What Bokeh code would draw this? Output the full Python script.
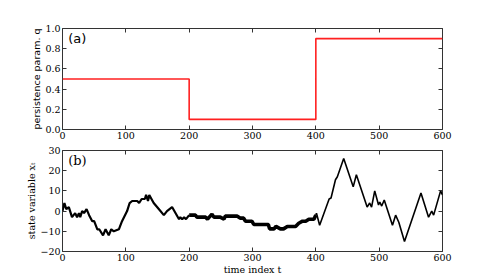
from bokeh.plotting import figure
from bokeh.layouts import column
from bokeh.models import LinearAxis, Label, FixedTicker, Range1d, NumeralTickFormatter, CustomJSTickFormatter
from bokeh.embed import file_html
from bokeh.resources import INLINE

# ---- data ----
q_t = [0, 200, 400, 600]
q_val = [0.5, 0.1, 0.9, 0.9]

# regime q=0.5
tA = [0, 3, 6, 10, 15, 20, 23, 26, 28, 31, 34, 38, 42, 47, 50, 55, 58, 64, 68, 73, 77, 81, 89, 94,
      102, 106, 110, 118, 121, 125, 130, 132, 135, 137, 144, 152, 160, 165, 173, 184, 186, 189, 192, 195, 200]
xA = [0, 4, 1, 2, -3, -1, -3, -1, -3, 0, -1, 1, -2, -5, -5, -9, -9, -12, -9, -12, -9, -10, -9, -5,
      0, 4, 5, 5, 4, 6, 6, 8, 5, 8, 4, 1, -2, 0, 2, -4, -3, -4, -3, -4, -2]
# regime q=0.1 (anti-persistent, dense band)
tB = [200, 210, 212, 226, 229, 236, 239, 249, 255, 257, 276, 281, 286, 289, 299, 302, 325, 327, 334,
      337, 344, 349, 355, 368, 373, 379, 384, 389, 397, 400]
xB = [-2, -2, -3, -3, -4, -1.5, -3, -3, -4, -2.5, -2.5, -3.5, -3.5, -5, -5, -6.6, -6.6, -8.8, -8.8,
      -7.6, -8.8, -8.8, -7.6, -7.6, -6, -5, -5, -4, -4, -2]
# regime q=0.9 (persistent)
tC = [400, 401, 406, 421, 424, 431, 434, 444, 459, 464, 481, 485, 488, 493, 499, 501, 504, 508, 521,
      526, 531, 540, 566, 578, 583, 586, 597, 600]
xC = [-2, -1, -7, 6, 6.5, 15.5, 17, 26, 12, 18, 2, 4, 2, 10, 3, 4.5, 2.5, 5.5, -7,
      -2, -5.5, -15, 9, -3, 0, -2, 10, 8]

x_ticks = [0, 100, 200, 300, 400, 500, 600]
q_ticks = [0.0, 0.2, 0.4, 0.6, 0.8, 1.0]
s_ticks = [-20, -10, 0, 10, 20, 30]

SERIF = "DejaVu Serif"
SANS = "DejaVu Sans"
FS = "9.5px"
FRAME = "#333333"


def style_main_axis(ax, ticks):
    ax.ticker = FixedTicker(ticks=ticks)
    ax.axis_line_color = None
    ax.major_tick_in = 4
    ax.major_tick_out = 0
    ax.major_tick_line_color = FRAME
    ax.minor_tick_line_color = None
    ax.major_label_text_font = SERIF
    ax.major_label_text_font_size = FS
    ax.major_label_text_color = "black"
    ax.major_label_standoff = 2
    ax.axis_label_standoff = 0
    ax.axis_label_text_font_style = "normal"
    ax.axis_label_text_font_size = FS
    ax.axis_label_text_color = "black"


def add_mirror(p, place, ticks):
    ax = LinearAxis(ticker=FixedTicker(ticks=ticks),
                    formatter=CustomJSTickFormatter(code="return '';"))
    ax.axis_line_color = None
    ax.major_tick_in = 4
    ax.major_tick_out = 0
    ax.major_tick_line_color = FRAME
    ax.minor_tick_line_color = None
    ax.major_label_standoff = 0
    ax.major_label_text_font_size = "0px"
    p.add_layout(ax, place)


def make_fig(yr, top, bottom):
    p = figure(frame_width=380, frame_height=101,
               x_range=Range1d(0, 600), y_range=yr,
               output_backend="svg", toolbar_location=None,
               min_border_left=62, min_border_right=40,
               min_border_top=top, min_border_bottom=bottom,
               background_fill_color="white", border_fill_color="white")
    p.grid.visible = False
    p.outline_line_color = FRAME
    p.outline_line_width = 1
    return p


# ---- top panel ----
p1 = make_fig(Range1d(0, 1), 28, 16)
p1.step(q_t, q_val, mode="after", line_color="#ff2020", line_width=1.6)
style_main_axis(p1.xaxis[0], x_ticks)
style_main_axis(p1.yaxis[0], q_ticks)
p1.yaxis[0].formatter = NumeralTickFormatter(format="0.0")
p1.yaxis[0].axis_label = "persistence param. q"
p1.yaxis[0].axis_label_text_font = SANS
add_mirror(p1, "above", x_ticks)
add_mirror(p1, "right", q_ticks)
p1.add_layout(Label(x=9, y=0.975, text="(a)", text_baseline="top", text_font=SANS,
                    text_font_size="13px", text_color="black"))

# ---- bottom panel ----
p2 = make_fig(Range1d(-20, 30), 5, 21)
p2.line(tA, xA, line_color="black", line_width=2.2)
p2.line(tB, xB, line_color="black", line_width=3.6)
p2.line(tC, xC, line_color="black", line_width=1.6)
style_main_axis(p2.xaxis[0], x_ticks)
style_main_axis(p2.yaxis[0], s_ticks)
p2.yaxis[0].formatter = CustomJSTickFormatter(
    code="return tick < 0 ? '\u2212' + Math.abs(tick) : '' + tick;")
p2.yaxis[0].axis_label = "state variable x\u209c"
p2.yaxis[0].axis_label_text_font = SERIF
p2.xaxis[0].axis_label = "time index t"
p2.xaxis[0].axis_label_text_font = SERIF
add_mirror(p2, "above", x_ticks)
add_mirror(p2, "right", s_ticks)
p2.add_layout(Label(x=9, y=29, text="(b)", text_baseline="top", text_font=SERIF,
                    text_font_size="13px", text_color="black"))

layout = column(p1, p2, spacing=0)
open("out.html", "w").write(file_html(layout, INLINE))
